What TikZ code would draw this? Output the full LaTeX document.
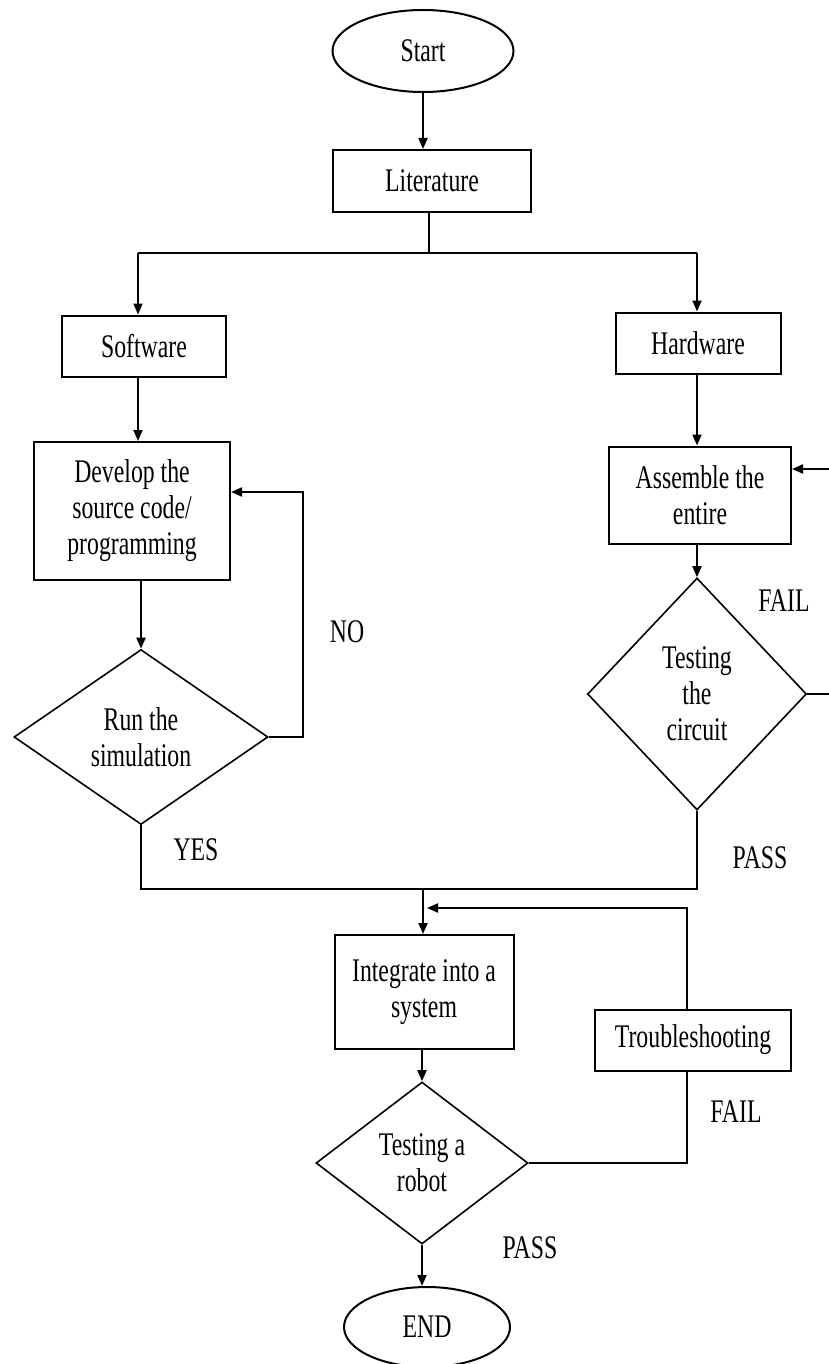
\documentclass[tikz,border=0pt]{standalone}
\usepackage{fontspec}
\setmainfont[FakeStretch=0.72]{Liberation Serif}
\usetikzlibrary{shapes.geometric,arrows.meta}
\begin{document}
\begin{tikzpicture}[x=1pt,y=-1pt,
  every node/.style={font=\fontsize{33}{36}\selectfont, align=center},
  ln/.style={line width=2pt, line join=miter},
  arr/.style={ln, -{Triangle[length=11pt,width=9pt]}},
  proc/.style={draw, ln, rectangle, inner sep=0pt},
  term/.style={draw, ln, ellipse, inner sep=0pt},
  dec/.style={draw, line width=1.6pt, diamond, inner sep=0pt},
  lbl/.style={inner sep=0pt}]
\useasboundingbox (0,0) rectangle (829,1364);
\fill[white] (0,0) rectangle (829,1364);
% nodes
\node[term, minimum width=181pt, minimum height=82pt] (start) at (423,51) {Start};
\node[proc, minimum width=198pt, minimum height=62pt] (lit) at (432,181) {Literature};
\node[proc, minimum width=164pt, minimum height=61pt] (soft) at (144,346) {Software};
\node[proc, minimum width=165pt, minimum height=61pt] (hard) at (698,343) {Hardware};
\node[proc, minimum width=196pt, minimum height=138pt] (dev) at (132,511) {Develop the\\source code/\\programming};
\node[dec, minimum width=254pt, minimum height=175pt] (run) at (141,737) {Run the\\simulation};
\node[proc, minimum width=182pt, minimum height=97pt] (asm) at (700,495) {Assemble the\\entire};
\node[dec, minimum width=219pt, minimum height=232pt] (circ) at (697,694) {Testing\\the\\circuit};
\node[proc, minimum width=179pt, minimum height=114pt] (integ) at (424,992) {Integrate into a\\system};
\node[proc, minimum width=196pt, minimum height=61pt] (trbl) at (693,1040) {Troubleshooting};
\node[dec, minimum width=212pt, minimum height=162pt] (robot) at (422,1163) {Testing a\\robot};
\node[term, minimum width=166pt, minimum height=80pt] (end) at (427,1327) {END};
% labels
\node[lbl] (lno) at (347,632) {NO};
\node[lbl] (lfail1) at (784,601) {FAIL};
\node[lbl] (lpass1) at (760,858) {PASS};
\node[lbl] (lyes) at (196,850) {YES};
\node[lbl] (lfail2) at (736,1112) {FAIL};
\node[lbl] (lpass2) at (530,1248) {PASS};
% coordinates
\coordinate (j) at (429,253);
\coordinate (jL) at (138,253);
\coordinate (jR) at (697,253);
\coordinate (noC) at (303,492);
\coordinate (fT) at (840,469);
\coordinate (mR) at (697,889);
\coordinate (mM) at (423,889);
\coordinate (tX) at (687,908);
\coordinate (fb) at (427,908);
% connectors
\draw[arr] (start.south) -- (start.south|-lit.north);
\draw[ln] (lit.south-|j) -- (j);
\draw[ln] (jL) -- (jR);
\draw[arr] (jL) -- (jL|-soft.north);
\draw[arr] (jR) -- (jR|-hard.north);
\draw[arr] (soft.south-|jL) -- (jL|-dev.north);
\draw[arr] (dev.south-|run.north) -- (run.north);
\draw[arr] (run.east) -| (noC) -- (noC-|dev.east);
\draw[arr] (hard.south-|jR) -- (jR|-asm.north);
\draw[arr] (asm.south-|circ.north) -- (circ.north);
\draw[arr] (circ.east) -| (fT) -- (fT-|asm.east);
\draw[ln] (circ.south) -- (mR) -- (mR-|run.south) -- (run.south);
\draw[arr] (mM) -- (mM|-integ.north);
\draw[arr] (integ.south-|robot.north) -- (robot.north);
\draw[ln] (robot.east) -| (tX|-trbl.south);
\draw[arr] (tX|-trbl.north) -- (tX) -- (fb);
\draw[arr] (robot.south) -- (robot.south|-end.north);
\end{tikzpicture}
\end{document}
